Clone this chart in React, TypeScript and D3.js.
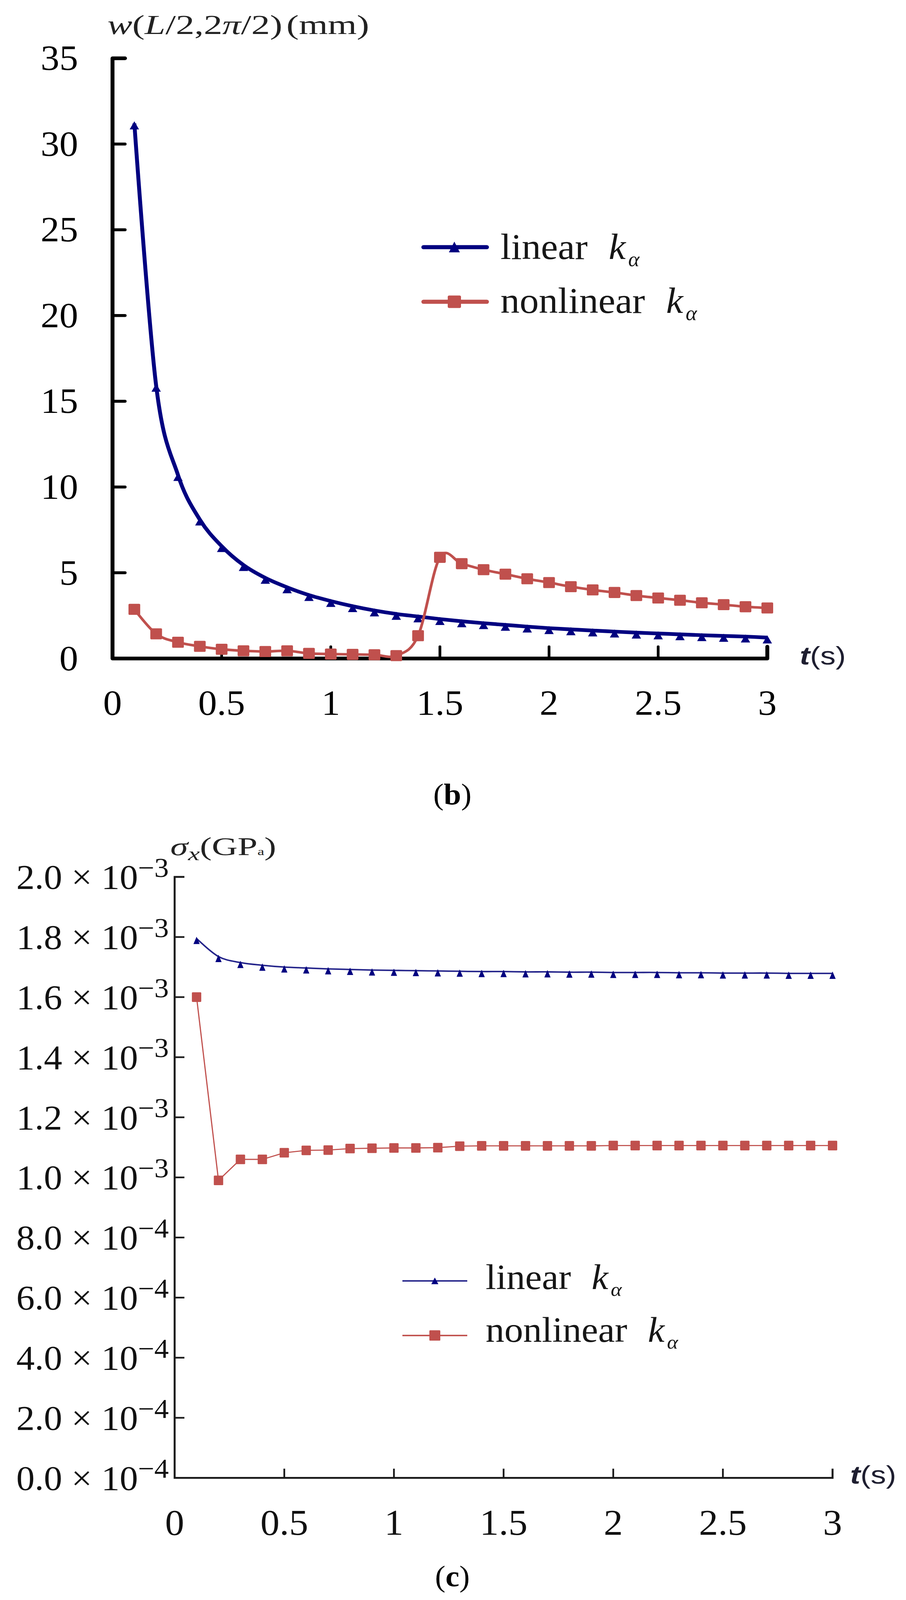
import React from "react";
import * as d3 from "d3";

// ---------- data ----------
const T = [0.1, 0.2, 0.3, 0.4, 0.5, 0.6, 0.7, 0.8, 0.9, 1.0, 1.1, 1.2, 1.3, 1.4, 1.5, 1.6, 1.7, 1.8, 1.9, 2.0, 2.1, 2.2, 2.3, 2.4, 2.5, 2.6, 2.7, 2.8, 2.9, 3.0];

// panel (b): w(L/2, 2π/2) in mm
const linearW = [31.2, 15.9, 10.7, 8.1, 6.55, 5.45, 4.7, 4.15, 3.7, 3.35, 3.05, 2.8, 2.6, 2.45, 2.3, 2.17, 2.06, 1.96, 1.86, 1.77, 1.7, 1.63, 1.57, 1.51, 1.46, 1.41, 1.36, 1.32, 1.28, 1.22];
const nonlinearW = [2.87, 1.44, 0.95, 0.71, 0.54, 0.45, 0.41, 0.45, 0.3, 0.26, 0.24, 0.22, 0.17, 1.33, 5.9, 5.53, 5.18, 4.92, 4.65, 4.43, 4.19, 4.0, 3.85, 3.67, 3.53, 3.4, 3.25, 3.14, 3.02, 2.95];

// panel (c): sigma_x in units of 10^-3 GPa
const linearS = [1.795, 1.735, 1.715, 1.706, 1.7, 1.697, 1.694, 1.692, 1.69, 1.689, 1.688, 1.687, 1.686, 1.685, 1.685, 1.684, 1.684, 1.683, 1.683, 1.682, 1.682, 1.682, 1.681, 1.681, 1.68, 1.68, 1.68, 1.679, 1.679, 1.679];
const nonlinearS = [1.6, 0.99, 1.06, 1.06, 1.082, 1.09, 1.091, 1.096, 1.097, 1.098, 1.098, 1.099, 1.104, 1.105, 1.105, 1.105, 1.105, 1.105, 1.105, 1.106, 1.106, 1.106, 1.106, 1.106, 1.106, 1.106, 1.106, 1.106, 1.106, 1.106];

const xTicks = [0, 0.5, 1, 1.5, 2, 2.5, 3];
const xTickLabels = ["0", "0.5", "1", "1.5", "2", "2.5", "3"];
const yTicksTop = [0, 5, 10, 15, 20, 25, 30, 35];
const yTickLabelsTop = ["0", "5", "10", "15", "20", "25", "30", "35"];
const yTicksBottom = [0, 0.2, 0.4, 0.6, 0.8, 1.0, 1.2, 1.4, 1.6, 1.8, 2.0];
const yMantissaBottom = ["0.0", "2.0", "4.0", "6.0", "8.0", "1.0", "1.2", "1.4", "1.6", "1.8", "2.0"];
const yExpBottom = ["−4", "−4", "−4", "−4", "−4", "−3", "−3", "−3", "−3", "−3", "−3"];
const seriesNames = ["linear", "nonlinear"];

// ---------- style ----------
const W = 2319;
const H = 4337;
const BLUE = "#000080";
const BLUE_THIN = "#23238a";
const RED = "#C0504D";
const INK = "#161616";
const SERIF = "'Liberation Serif', 'Times New Roman', serif";
const SANS = "'Liberation Sans', Arial, sans-serif";

// ---------- scales ----------
const xTop = d3.scaleLinear().domain([0, 3]).range([288, 1964]);
const yTop = d3.scaleLinear().domain([0, 35]).range([1785, 158]);
const xBot = d3.scaleLinear().domain([0, 3]).range([447, 2131]);
const yBot = d3.scaleLinear().domain([0, 2.0]).range([4006, 2377]);

const smooth = d3.curveCardinal.tension(0);

function lineGen(xs: d3.ScaleLinear<number, number>, ys: d3.ScaleLinear<number, number>, curve: any) {
  return d3
    .line<number>()
    .x((_, i) => xs(T[i]))
    .y((d) => ys(d))
    .curve(curve);
}

const triTop = "M0,-6 L12,16 L-12,16 Z";
const triTopLegend = "M0,-15 L14,14 L-14,14 Z";
const triBot = "M0,-5 L8,15 L-8,15 Z";
const triBotLegend = "M0,-9 L9,9 L-9,9 Z";

function LegendText({ x, y, label, size }: { x: number; y: number; label: string; size: number }) {
  return (
    <text x={x} y={y} fontFamily={SERIF} fontSize={size} fill={INK}>
      {label}
      <tspan dx="0.55em" fontStyle="italic">k</tspan>
      <tspan dx="0.12em" dy={size * 0.2} fontStyle="italic" fontSize={size * 0.56}>α</tspan>
    </text>
  );
}

function TopPanel() {
  const x0 = xTop(0);
  const y0 = yTop(0);
  const lin = lineGen(xTop, yTop, smooth)(linearW) || "";
  const non = lineGen(xTop, yTop, smooth)(nonlinearW) || "";
  return (
    <g>
      {/* axis title */}
      <text x={275} y={92} fontFamily={SERIF} fontSize={74} fill="#222" textLength={670} lengthAdjust="spacingAndGlyphs">
        <tspan fontStyle="italic">w</tspan>
        <tspan>(</tspan>
        <tspan fontStyle="italic">L</tspan>
        <tspan>/2,2</tspan>
        <tspan fontStyle="italic">π</tspan>
        <tspan>/2)</tspan>
        <tspan dx={8}>(mm)</tspan>
      </text>

      {/* axes */}
      <path
        d={`M${x0 + 32},${yTop(35)} H${x0} V${y0} H${xTop(3)} V${y0 - 32}`}
        fill="none"
        stroke="#000"
        strokeWidth={10}
        strokeLinejoin="round"
        strokeLinecap="round"
      />
      {yTicksTop.slice(1, -1).map((v) => (
        <line key={"yt" + v} x1={x0} x2={x0 + 32} y1={yTop(v)} y2={yTop(v)} stroke="#000" strokeWidth={8} strokeLinecap="round" />
      ))}
      {xTicks.slice(1, -1).map((v) => (
        <line key={"xt" + v} x1={xTop(v)} x2={xTop(v)} y1={y0} y2={y0 - 32} stroke="#000" strokeWidth={7} strokeLinecap="round" />
      ))}
      {yTicksTop.map((v, i) => (
        <text key={"yl" + v} x={200} y={yTop(v) + 32} textAnchor="end" fontFamily={SERIF} fontSize={96} fill="#000">
          {yTickLabelsTop[i]}
        </text>
      ))}
      {xTicks.map((v, i) => (
        <text key={"xl" + v} x={xTop(v)} y={1938} textAnchor="middle" fontFamily={SERIF} fontSize={96} fill="#000">
          {xTickLabels[i]}
        </text>
      ))}
      <text x={2047} y={1801} fontFamily={SANS} fontSize={68} fill="#1e1e30" textLength={118} lengthAdjust="spacingAndGlyphs">
        <tspan fontStyle="italic" fontWeight="bold">t</tspan>
        <tspan>(s)</tspan>
      </text>

      {/* series */}
      <path d={lin} fill="none" stroke={BLUE} strokeWidth={10} strokeLinejoin="round" />
      {linearW.map((d, i) => (
        <path key={"lt" + i} d={triTop} transform={`translate(${xTop(T[i])},${yTop(d)})`} fill={BLUE} />
      ))}
      <path d={non} fill="none" stroke={RED} strokeWidth={7} strokeLinejoin="round" />
      {nonlinearW.map((d, i) => (
        <rect key={"ns" + i} x={xTop(T[i]) - 15} y={yTop(d) - 15} width={30} height={30} rx={3} fill={RED} />
      ))}

      {/* legend */}
      <line x1={1084} x2={1246} y1={670} y2={670} stroke={BLUE} strokeWidth={11} strokeLinecap="round" />
      <path d={triTopLegend} transform="translate(1163,670)" fill={BLUE} />
      <LegendText x={1281} y={702} label={seriesNames[0]} size={98} />
      <line x1={1084} x2={1246} y1={818} y2={818} stroke={RED} strokeWidth={11} strokeLinecap="round" />
      <rect x={1146} y={801} width={34} height={34} rx={4} fill={RED} />
      <LegendText x={1281} y={848} label={seriesNames[1]} size={98} />

      {/* panel letter */}
      <text x={1158} y={2180} textAnchor="middle" fontFamily={SERIF} fontSize={80} fill="#000">
        (<tspan fontWeight="bold">b</tspan>)
      </text>
    </g>
  );
}

function BottomPanel() {
  const x0 = xBot(0);
  const y0 = yBot(0);
  const lin = lineGen(xBot, yBot, smooth)(linearS) || "";
  const non = lineGen(xBot, yBot, d3.curveLinear)(nonlinearS) || "";
  return (
    <g>
      {/* axis title */}
      <text x={436} y={2318} fontFamily={SERIF} fontSize={70} fill="#222" textLength={271} lengthAdjust="spacingAndGlyphs">
        <tspan fontStyle="italic">σ</tspan>
        <tspan fontStyle="italic" fontSize={52} dy={14}>x</tspan>
        <tspan dy={-14}>(GP</tspan>
        <tspan fontSize={30}>a</tspan>
        <tspan>)</tspan>
      </text>

      {/* axes */}
      <path
        d={`M${x0 + 25},${yBot(2.0)} H${x0} V${y0} H${xBot(3)} V${y0 - 25}`}
        fill="none"
        stroke="#1a1a1a"
        strokeWidth={5}
        strokeLinejoin="miter"
      />
      {yTicksBottom.slice(1, -1).map((v) => (
        <line key={"yt" + v} x1={x0} x2={x0 + 25} y1={yBot(v)} y2={yBot(v)} stroke="#1a1a1a" strokeWidth={4.5} />
      ))}
      {xTicks.slice(1, -1).map((v) => (
        <line key={"xt" + v} x1={xBot(v)} x2={xBot(v)} y1={y0} y2={y0 - 25} stroke="#1a1a1a" strokeWidth={4.5} />
      ))}
      {yTicksBottom.map((v, i) => (
        <text key={"yl" + v} x={432} y={yBot(v) + 32} textAnchor="end" fontFamily={SERIF} fontSize={94} fill="#111">
          {yMantissaBottom[i] + " × 10"}
          <tspan fontSize={74} dy={-32}>{yExpBottom[i]}</tspan>
        </text>
      ))}
      {xTicks.map((v, i) => (
        <text key={"xl" + v} x={xBot(v)} y={4160} textAnchor="middle" fontFamily={SERIF} fontSize={98} fill="#111">
          {xTickLabels[i]}
        </text>
      ))}
      <text x={2176} y={4022} fontFamily={SANS} fontSize={68} fill="#1e1e30" textLength={118} lengthAdjust="spacingAndGlyphs">
        <tspan fontStyle="italic" fontWeight="bold">t</tspan>
        <tspan>(s)</tspan>
      </text>

      {/* series */}
      <path d={lin} fill="none" stroke={BLUE_THIN} strokeWidth={4} strokeLinejoin="round" />
      {linearS.map((d, i) => (
        <path key={"lt" + i} d={triBot} transform={`translate(${xBot(T[i])},${yBot(d)})`} fill={BLUE} />
      ))}
      <path d={non} fill="none" stroke={RED} strokeWidth={3} strokeLinejoin="round" />
      {nonlinearS.map((d, i) => (
        <rect key={"ns" + i} x={xBot(T[i]) - 12} y={yBot(d) - 13} width={24} height={26} rx={2} fill={RED} />
      ))}

      {/* legend */}
      <line x1={1030} x2={1196} y1={3472} y2={3472} stroke={BLUE_THIN} strokeWidth={4} />
      <path d={triBotLegend} transform="translate(1113,3472)" fill={BLUE} />
      <LegendText x={1243} y={3494} label={seriesNames[0]} size={96} />
      <line x1={1030} x2={1196} y1={3620} y2={3620} stroke={RED} strokeWidth={4} />
      <rect x={1099} y={3606} width={28} height={28} rx={2} fill={RED} />
      <LegendText x={1243} y={3637} label={seriesNames[1]} size={96} />

      {/* panel letter */}
      <text x={1158} y={4300} textAnchor="middle" fontFamily={SERIF} fontSize={80} fill="#000">
        (<tspan fontWeight="bold">c</tspan>)
      </text>
    </g>
  );
}

export default function App() {
  return (
    <svg
      viewBox={`0 0 ${W} ${H}`}
      preserveAspectRatio="none"
      xmlns="http://www.w3.org/2000/svg"
      style={{ position: "fixed", left: 0, top: 0, width: "100vw", height: "100vh", display: "block", background: "#fff" }}
    >
      <rect x={0} y={0} width={W} height={H} fill="#fff" />
      <TopPanel />
      <BottomPanel />
    </svg>
  );
}
